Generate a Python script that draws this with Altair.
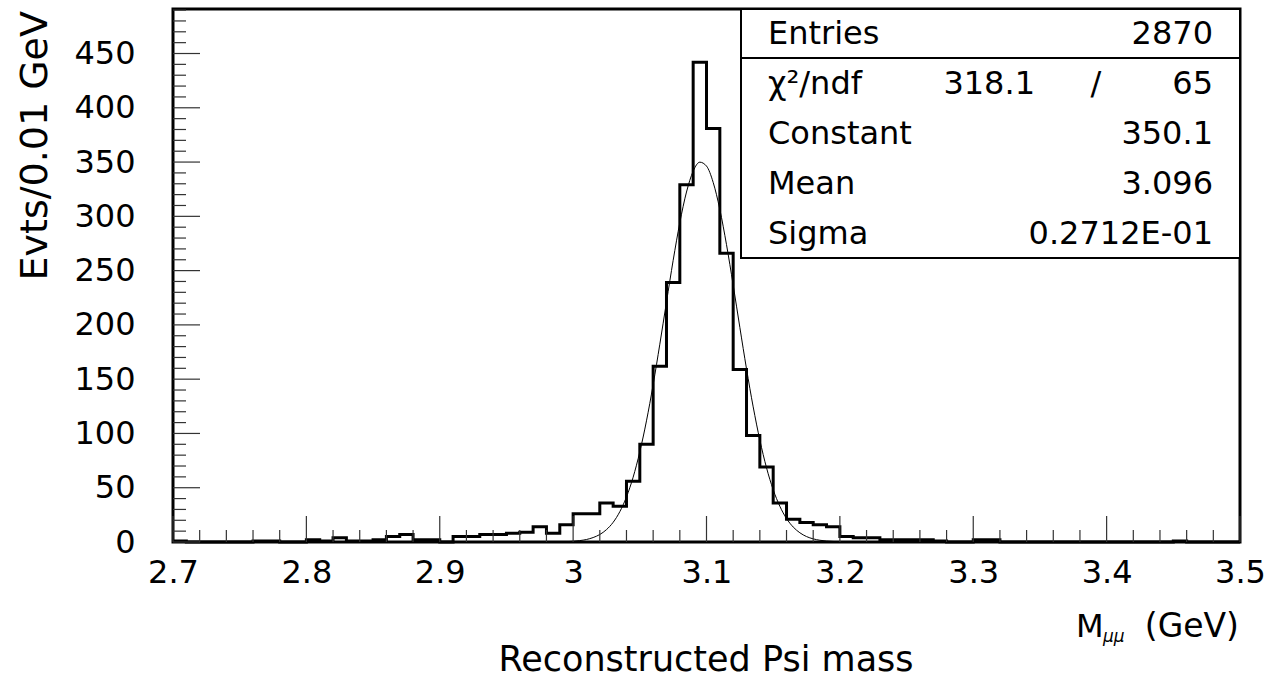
import altair as alt
import pandas as pd

FONT = "DejaVu Sans"

# ---------------- data ----------------
# histogram: 80 bins of 0.01 GeV from 2.70 to 3.50 (counts)
bin_low = [round(2.70 + 0.01 * i, 2) for i in range(80)]
counts = [
    1, 0, 0, 0, 0, 0, 1, 1, 0, 0,          # 2.70 - 2.79
    2, 1, 4, 1, 1, 2, 5, 7, 2, 2,          # 2.80 - 2.89
    0, 5, 5, 7, 7, 8, 9, 14, 8, 16,        # 2.90 - 2.99
    26, 26, 36, 33, 56, 90, 162, 239, 329, 442,   # 3.00 - 3.09
    381, 266, 159, 98, 69, 36, 21, 18, 16, 14,    # 3.10 - 3.19
    5, 4, 4, 2, 2, 2, 2, 1, 0, 0,          # 3.20 - 3.29
    2, 2, 0, 0, 0, 0, 0, 0, 0, 0,          # 3.30 - 3.39
    0, 0, 0, 0, 0, 1, 0, 0, 0, 0,          # 3.40 - 3.49
]

# fitted gaussian curve
fit_x = [2.990, 2.995, 3.000, 3.005, 3.010, 3.015, 3.020, 3.025, 3.030, 3.035,
         3.040, 3.045, 3.050, 3.055, 3.060, 3.065, 3.070, 3.075, 3.080, 3.085,
         3.090, 3.095, 3.100, 3.105, 3.110, 3.115, 3.120, 3.125, 3.130, 3.135,
         3.140, 3.145, 3.150, 3.155, 3.160, 3.165, 3.170, 3.175, 3.180, 3.185,
         3.190, 3.195, 3.200]
fit_y = [0.2, 0.3, 0.7, 1.3, 2.3, 4.1, 6.9, 11.4, 18.1, 27.9,
         41.5, 59.7, 83.1, 111.6, 145.0, 182.2, 221.1, 259.4, 294.2, 322.4,
         341.6, 349.9, 346.3, 331.3, 306.4, 273.9, 236.7, 197.7, 159.5, 124.5,
         93.9, 68.4, 48.2, 32.9, 21.6, 13.8, 8.5, 5.0, 2.9, 1.6,
         0.9, 0.5, 0.2]

# axis ticks / labels
x_major = [2.7, 2.8, 2.9, 3.0, 3.1, 3.2, 3.3, 3.4, 3.5]
x_minor = [round(2.7 + 0.02 * i, 2) for i in range(41)]
x_minor = [v for v in x_minor if abs(v * 10 - round(v * 10)) > 1e-6]
y_major = [0, 50, 100, 150, 200, 250, 300, 350, 400, 450]
y_minor = [v for v in range(0, 491, 10) if v % 50 != 0]

# statistics box
stat_labels = ["Entries", "χ²/ndf", "Constant", "Mean", "Sigma"]
stat_values = ["2870", "65", "350.1", "3.096", "0.2712E-01"]
chi2_value = "318.1"

y_title = "Evts/0.01 GeV"
x_title_main = "M"
x_title_sub = "μμ"
x_title_unit = "(GeV)"
bottom_title = "Reconstructed Psi mass"

# ---------------- chart ----------------
W, H = 1067, 533
xs = alt.Scale(domain=[2.7, 3.5], nice=False, zero=False)
ys = alt.Scale(domain=[0, 491], nice=False, zero=False)

hist_df = pd.DataFrame({"edge": bin_low + [3.50], "count": counts + [counts[-1]]})
fit_df = pd.DataFrame({"x": fit_x, "y": fit_y})

x_axis = alt.Axis(values=x_major, format="~g", title=None, ticks=False, tickSize=0,
                  domain=False, grid=False, labelFont=FONT, labelFontSize=32,
                  labelColor="black", labelPadding=15, labelFlush=False,
                  labelOverlap=False, labelBound=False)
y_axis = alt.Axis(values=y_major, format="d", title=None, ticks=False, tickSize=0,
                  domain=False, grid=False, labelFont=FONT, labelFontSize=32,
                  labelColor="black", labelPadding=38, labelOverlap=False,
                  labelBound=False)

hist = alt.Chart(hist_df).mark_line(
    interpolate="step-after", color="black", strokeWidth=3, strokeJoin="miter"
).encode(
    x=alt.X("edge:Q", scale=xs, axis=x_axis),
    y=alt.Y("count:Q", scale=ys, axis=y_axis),
)

fit = alt.Chart(fit_df).mark_line(
    interpolate="monotone", color="black", strokeWidth=1
).encode(
    x=alt.X("x:Q", scale=xs),
    y=alt.Y("y:Q", scale=ys),
)

def xticks(vals, length):
    return alt.Chart(pd.DataFrame({"v": vals})).mark_rule(
        color="#333333", strokeWidth=1.2
    ).encode(
        x=alt.X("v:Q", scale=xs),
        y=alt.value(H), y2=alt.value(H - length),
    )

def yticks(vals, length):
    return alt.Chart(pd.DataFrame({"v": vals})).mark_rule(
        color="#333333", strokeWidth=1.2
    ).encode(
        y=alt.Y("v:Q", scale=ys),
        x=alt.value(0), x2=alt.value(length),
    )

one = pd.DataFrame({"a": [0]})

box = alt.Chart(one).mark_rect(fill="white", stroke="black", strokeWidth=2).encode(
    x=alt.value(568), x2=alt.value(W), y=alt.value(0), y2=alt.value(249)
)
sep = alt.Chart(one).mark_rule(color="black", strokeWidth=2).encode(
    x=alt.value(568), x2=alt.value(W), y=alt.value(49)
)

def txt(t, x, y, align="left", size=32, baseline="middle", angle=0, style="normal"):
    m = dict(font=FONT, fontSize=size, color="black", align=align,
             baseline=baseline, fontStyle=style)
    if angle:
        m["angle"] = angle
    return alt.Chart(pd.DataFrame({"t": [t]})).mark_text(**m).encode(
        text="t:N", x=alt.value(x), y=alt.value(y)
    )

texts = []
row_y = [25, 75, 125, 175, 225]
for lab, val, ry in zip(stat_labels, stat_values, row_y):
    texts.append(txt(lab, 595, ry, "left"))
    texts.append(txt(val, 1040, ry, "right"))
texts.append(txt(chi2_value, 862, row_y[1], "right"))
texts.append(txt("/", 923, row_y[1], "center"))

texts.append(txt(y_title, -137, 2, "right", size=38, angle=270))
texts.append(txt(x_title_main, 903, 628, "left", size=32, baseline="alphabetic"))
texts.append(txt(x_title_sub, 930, 633, "left", size=17, baseline="alphabetic", style="italic"))
texts.append(txt(x_title_unit, 1066, 628, "right", size=33, baseline="alphabetic"))
texts.append(txt(bottom_title, 533, 662, "center", size=35, baseline="alphabetic"))

chart = alt.layer(
    hist, fit,
    xticks(x_minor, 12), xticks(x_major, 26),
    yticks(y_minor, 13), yticks(y_major, 27),
    box, sep, *texts
).properties(
    width=W, height=H,
    autosize=alt.AutoSizeParams(type="none"),
    padding={"left": 173, "top": 9, "right": 42, "bottom": 137},
    background="white",
).configure_view(stroke="black", strokeWidth=3)

chart.save("out.html", embed_options={"renderer": "svg", "actions": False})
